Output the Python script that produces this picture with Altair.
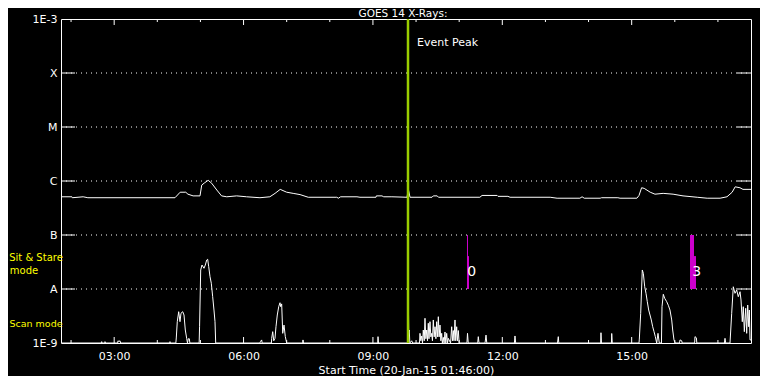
import altair as alt
import pandas as pd

# ---- data (time = hours of 20-Jan-15, flux in W/m^2) ----
long_t = [1.767, 2.02, 2.03, 2.28, 2.39, 4.41, 4.53, 4.66, 4.71, 4.83, 4.99, 5.03, 5.10, 5.18, 5.26,
          5.38, 5.49, 5.61, 5.84, 6.07, 6.38, 6.61, 6.73, 6.85, 7.00, 7.15, 7.31, 7.50, 8.16, 8.20,
          8.25, 8.63, 8.70, 9.07, 9.08, 9.21, 9.25, 9.44, 9.79, 9.82, 9.86, 10.37, 10.40, 10.49,
          10.52, 11.48, 11.53, 11.88, 11.90, 12.13, 12.18, 13.11, 13.27, 13.80, 13.85, 13.90, 14.27,
          14.30, 14.68, 14.73, 15.12, 15.17, 15.23, 15.29, 15.43, 15.54, 15.73, 15.96, 16.19, 16.52,
          16.75, 17.05, 17.21, 17.33, 17.40, 17.51, 17.58, 17.767]
long_f = [5.1e-7, 5.1e-7, 4.9e-7, 5.1e-7, 4.9e-7, 4.9e-7, 6.2e-7, 6.2e-7, 5.7e-7, 5.3e-7, 5.3e-7,
          8.4e-7, 9.3e-7, 1.03e-6, 9.1e-7, 6.8e-7, 5.3e-7, 5.1e-7, 5.3e-7, 5.1e-7, 4.9e-7, 5.1e-7,
          5.9e-7, 7.0e-7, 6.2e-7, 5.9e-7, 5.6e-7, 5.0e-7, 5.0e-7, 4.8e-7, 5.1e-7, 5.1e-7, 5.0e-7,
          5.0e-7, 5.3e-7, 5.3e-7, 5.1e-7, 5.1e-7, 5.0e-7, 7.1e-7, 5.0e-7, 5.0e-7, 5.3e-7, 5.3e-7,
          5.0e-7, 5.0e-7, 5.4e-7, 5.4e-7, 5.2e-7, 5.2e-7, 5.0e-7, 5.0e-7, 4.8e-7, 4.8e-7, 5.1e-7,
          4.8e-7, 4.8e-7, 4.9e-7, 4.9e-7, 4.8e-7, 4.8e-7, 5.4e-7, 7.5e-7, 7.3e-7, 6.2e-7, 5.7e-7,
          5.9e-7, 5.7e-7, 5.3e-7, 5.0e-7, 4.8e-7, 4.8e-7, 5.1e-7, 6.2e-7, 7.8e-7, 7.5e-7, 7.0e-7,
          7.0e-7]

short_t = [1.767, 2.70, 2.71, 2.72, 2.78, 2.787, 2.80, 3.08, 3.088, 3.11, 3.135, 3.15, 4.29, 4.294, 4.30,
           4.43, 4.44, 4.463, 4.496, 4.526, 4.549, 4.589, 4.619, 4.649, 4.681, 4.70, 4.719, 4.742, 4.755,
           4.97, 4.98, 5.006, 5.036, 5.083, 5.113, 5.145, 5.168, 5.192, 5.222, 5.252, 5.284, 5.314,
           5.338, 5.354, 6.38, 6.39, 6.42, 6.43, 6.645, 6.652, 6.676, 6.70, 6.729, 6.752, 6.782, 6.815,
           6.845, 6.861, 6.884, 6.908, 6.938, 6.968, 7.00, 7.37, 7.378, 7.39, 9.11, 9.118, 9.13,
           9.815, 9.82, 9.83, 9.843, 9.855, 9.899, 9.92,
           10.08, 10.091, 10.11, 10.131, 10.15, 10.168, 10.19, 10.207, 10.227, 10.247, 10.265, 10.284,
           10.30, 10.323, 10.343, 10.363, 10.38, 10.40, 10.42, 10.439, 10.46, 10.478, 10.50, 10.516,
           10.535, 10.555, 10.575, 10.594, 10.61, 10.632, 10.65, 10.671, 10.69, 10.710, 10.73, 10.748,
           10.80, 10.826, 10.845, 10.864, 10.88, 10.903, 10.92, 10.942, 10.96, 10.980, 11.00,
           11.18, 11.193, 11.21, 11.43, 11.443, 11.46, 11.60, 11.622, 11.64, 12.28, 12.294, 12.31,
           13.28, 13.298, 13.31, 14.28, 14.288, 14.30, 14.53, 14.537, 14.55,
           15.17, 15.176, 15.209, 15.246, 15.270, 15.302, 15.332, 15.362, 15.394, 15.425, 15.455,
           15.487, 15.518, 15.548, 15.580, 15.610, 15.640,
           15.69, 15.703, 15.733, 15.765, 15.812, 15.849, 15.888, 15.928, 15.951, 15.981, 16.011,
           16.11, 16.120, 16.16, 16.17, 16.46, 16.468, 16.50, 16.51, 17.15, 17.164, 17.18,
           17.28, 17.319, 17.356, 17.396, 17.435, 17.472, 17.512, 17.535, 17.565, 17.588, 17.612,
           17.644, 17.667, 17.690, 17.714, 17.728, 17.744, 17.767]
short_f = [1.0e-9, 1.0e-9, 1.06e-9, 1.0e-9, 1.0e-9, 1.06e-9, 1.0e-9, 1.0e-9, 1.1e-9, 1.06e-9, 1.1e-9,
           1.0e-9, 1.0e-9, 1.06e-9, 1.0e-9,
           1.0e-9, 1.24e-9, 2.48e-9, 3.80e-9, 2.48e-9, 3.55e-9, 3.80e-9, 3.30e-9, 1.74e-9, 1.22e-9,
           1.0e-9, 1.2e-9, 1.2e-9, 1.0e-9,
           1.0e-9, 2.0e-9, 2.25e-8, 2.78e-8, 2.42e-8, 2.78e-8, 3.44e-8, 3.55e-8, 2.59e-8, 1.69e-8,
           1.28e-8, 7.2e-9, 4.08e-9, 2.48e-9, 1.0e-9, 1.0e-9, 1.06e-9, 1.14e-9, 1.0e-9,
           1.0e-9, 1.22e-9, 1.62e-9, 1.1e-9, 1.22e-9, 2.0e-9, 3.30e-9, 4.70e-9, 5.57e-9, 4.70e-9,
           5.3e-9, 1.51e-9, 2.15e-9, 1.31e-9, 1.0e-9, 1.0e-9, 1.14e-9, 1.0e-9, 1.0e-9, 1.31e-9, 1.0e-9,
           1.0e-9, 7.2e-9, 1.62e-9, 1.74e-9, 1.0e-9, 1.1e-9, 1.0e-9,
           1.0e-9, 1.51e-9, 1.1e-9, 1.35e-9, 1.0e-9, 1.74e-9, 1.1e-9, 2.87e-9, 1.2e-9, 1.74e-9, 1.1e-9,
           2.32e-9, 1.2e-9, 2.48e-9, 1.3e-9, 1.51e-9, 1.1e-9, 2.67e-9, 1.3e-9, 2.0e-9, 1.2e-9, 2.48e-9,
           1.3e-9, 3.07e-9, 1.3e-9, 2.15e-9, 1.1e-9, 1.51e-9, 1.0e-9, 1.27e-9, 1.0e-9, 1.6e-9, 1.0e-9,
           1.51e-9, 1.0e-9, 1.22e-9, 1.0e-9, 2.0e-9, 1.1e-9, 1.7e-9, 1.1e-9, 2.67e-9, 1.1e-9, 2.0e-9,
           1.1e-9, 1.7e-9, 1.0e-9,
           1.0e-9, 1.51e-9, 1.0e-9, 1.0e-9, 1.31e-9, 1.0e-9, 1.0e-9, 1.4e-9, 1.0e-9, 1.0e-9, 1.35e-9,
           1.0e-9, 1.0e-9, 1.31e-9, 1.0e-9, 1.0e-9, 1.55e-9, 1.0e-9, 1.0e-9, 1.5e-9, 1.0e-9,
           1.0e-9, 1.14e-9, 3.55e-9, 2.25e-8, 1.95e-8, 1.10e-8, 8.32e-9, 5.82e-9, 4.08e-9, 3.30e-9,
           2.67e-9, 2.0e-9, 1.62e-9, 1.31e-9, 1.0e-9, 1.51e-9, 1.0e-9,
           1.0e-9, 4.70e-9, 7.98e-9, 6.73e-9, 5.82e-9, 5.0e-9, 4.08e-9, 2.67e-9, 1.74e-9, 1.14e-9,
           1.0e-9, 1.0e-9, 1.14e-9, 1.1e-9, 1.0e-9, 1.0e-9, 1.31e-9, 1.25e-9, 1.0e-9, 1.0e-9,
           1.22e-9, 1.0e-9,
           1.0e-9, 3.55e-9, 1.10e-8, 8.32e-9, 9.58e-9, 7.2e-9, 8.91e-9, 6.26e-9, 2.48e-9, 4.70e-9,
           1.62e-9, 4.39e-9, 1.51e-9, 5.05e-9, 2.0e-9, 4.08e-9, 1.14e-9, 1.14e-9]

decades = [1e-8, 1e-7, 1e-6, 1e-5, 1e-4]
y_tick_values = [1e-9, 1e-8, 1e-7, 1e-6, 1e-5, 1e-4, 1e-3]
major_hours = [3, 6, 9, 12, 15]
minor_hours = [2, 4, 5, 7, 8, 10, 11, 13, 14, 16, 17]
time_domain = [1.7667, 17.7667]
event_t = [9.813]
bar_t = [11.181, 11.181, 16.352, 16.352]
bar_t2 = [11.204, 11.227, 16.445, 16.491]
bar_f = [1e-8, 1e-8, 1e-8, 1e-8]
bar_f2 = [1e-7, 4.07e-8, 1e-7, 4.07e-8]
num_t = [11.29, 16.51]
num_f = [2.09e-8, 2.09e-8]
num_lbl = ["0", "3"]
title_text = "GOES 14 X-Rays:"

W, H = 690, 324
FONT = "DejaVu Sans"

xscale = alt.Scale(domain=time_domain, nice=False, zero=False)
yscale = alt.Scale(type="log", domain=[1e-9, 1e-3], nice=False)

xaxis = alt.Axis(values=major_hours,
                 labelExpr="(datum.value < 10 ? '0' : '') + datum.value + ':00'",
                 title="Start Time (20-Jan-15 01:46:00)", labelPadding=7, titlePadding=3)
yaxis = alt.Axis(values=y_tick_values, title=None, labelPadding=4,
                 labelExpr="datum.value >= 9e-4 ? '1E-3' : datum.value >= 9e-5 ? 'X' : "
                           "datum.value >= 9e-6 ? 'M' : datum.value >= 9e-7 ? 'C' : "
                           "datum.value >= 9e-8 ? 'B' : datum.value >= 9e-9 ? 'A' : '1E-9'")

X = lambda: alt.X("t:Q", scale=xscale, axis=xaxis)
Y = lambda: alt.Y("f:Q", scale=yscale, axis=yaxis)

dec_df = pd.DataFrame({"f": decades})
grid = alt.Chart(dec_df).mark_rule(color="white", strokeDash=[1, 4], strokeWidth=1).encode(
    y=Y(), x=alt.value(0), x2=alt.value(W))
ltick = alt.Chart(dec_df).mark_rule(color="white").encode(y=Y(), x=alt.value(0), x2=alt.value(14))
rtick = alt.Chart(dec_df).mark_rule(color="white").encode(y=Y(), x=alt.value(W - 14), x2=alt.value(W))

maj_df = pd.DataFrame({"t": major_hours})
min_df = pd.DataFrame({"t": minor_hours})
bt_maj = alt.Chart(maj_df).mark_rule(color="white").encode(x=X(), y=alt.value(H), y2=alt.value(H - 6))
bt_min = alt.Chart(min_df).mark_rule(color="white").encode(x=X(), y=alt.value(H), y2=alt.value(H - 3))
tt_maj = alt.Chart(maj_df).mark_rule(color="white").encode(x=X(), y=alt.value(0), y2=alt.value(6))
tt_min = alt.Chart(min_df).mark_rule(color="white").encode(x=X(), y=alt.value(0), y2=alt.value(3))

long_line = alt.Chart(pd.DataFrame({"t": long_t, "f": long_f})).mark_line(
    color="white", strokeWidth=1, clip=True).encode(x=X(), y=Y())
short_line = alt.Chart(pd.DataFrame({"t": short_t, "f": short_f})).mark_line(
    color="white", strokeWidth=1, clip=True).encode(x=X(), y=Y())

ev_df = pd.DataFrame({"t": event_t})
event_rule = alt.Chart(ev_df).mark_rule(color="#9acd00", strokeWidth=2.5).encode(x=X())
event_txt = alt.Chart(ev_df).mark_text(text="Event Peak", color="white", font=FONT, fontSize=11,
                                       align="left", baseline="middle", dx=9).encode(
    x=X(), y=alt.value(24))

bars = alt.Chart(pd.DataFrame({"t": bar_t, "t2": bar_t2, "f": bar_f, "f2": bar_f2})).mark_rect(
    color="#cc00cc").encode(x=X(), x2="t2:Q", y=Y(), y2="f2:Q")
nums = alt.Chart(pd.DataFrame({"t": num_t, "f": num_f, "lbl": num_lbl})).mark_text(
    color="white", font=FONT, fontSize=14, align="center", baseline="middle").encode(
    x=X(), y=Y(), text="lbl:N")

lbl_df = pd.DataFrame({"k": [0]})
title_mark = alt.Chart(lbl_df).mark_text(text=title_text, color="white", font=FONT, fontSize=10.5,
                                         align="center", baseline="middle").encode(
    x=alt.value(W / 2 - 3), y=alt.value(-5))
sit1 = alt.Chart(lbl_df).mark_text(text="Sit & Stare", color="#ffff00", font=FONT, fontSize=10,
                                   align="center", baseline="middle").encode(
    x=alt.value(-25), y=alt.value(239))
sit2 = alt.Chart(lbl_df).mark_text(text="mode", color="#ffff00", font=FONT, fontSize=10,
                                   align="center", baseline="middle").encode(
    x=alt.value(-37), y=alt.value(252))
scan = alt.Chart(lbl_df).mark_text(text="Scan mode", color="#ffff00", font=FONT, fontSize=9.5,
                                   align="center", baseline="middle").encode(
    x=alt.value(-25), y=alt.value(305))

chart = alt.layer(
    grid, ltick, rtick, bt_maj, bt_min, tt_maj, tt_min, bars, nums,
    long_line, short_line, event_rule, event_txt, title_mark, sit1, sit2, scan
).properties(
    width=W, height=H,
    autosize=alt.AutoSizeParams(type="none"),
    padding={"left": 53, "top": 11, "right": 9, "bottom": 33},
).configure(background="black").configure_view(
    stroke="white", strokeWidth=1
).configure_axis(
    labelColor="white", titleColor="white", labelFont=FONT, titleFont=FONT,
    labelFontSize=11, titleFontSize=11, titleFontWeight="normal",
    domain=False, ticks=False, tickSize=0, grid=False
)

chart.save("out.html", embed_options={"renderer": "svg", "actions": False})
